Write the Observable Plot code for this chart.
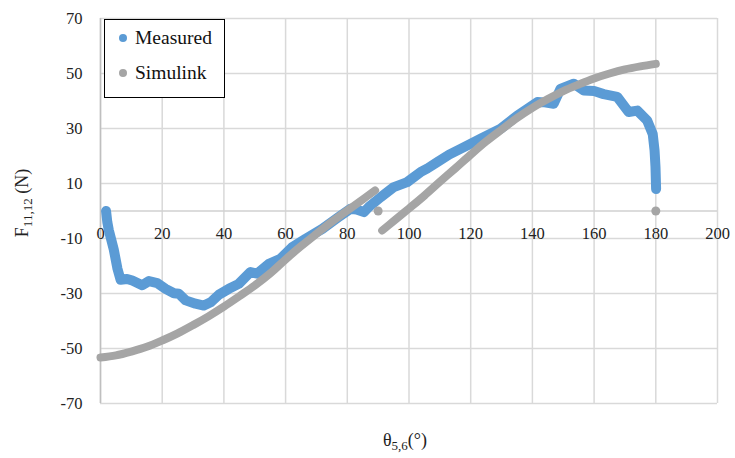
<!DOCTYPE html>
<html>
<head>
<meta charset="utf-8">
<script src="https://cdn.jsdelivr.net/npm/d3@7"></script>
<script src="https://cdn.jsdelivr.net/npm/@observablehq/plot@0.6"></script>
<style>
  html, body { margin: 0; padding: 0; background: #fff; }
  #wrap { position: relative; width: 735px; height: 458px; font-family: "Times New Roman", "Liberation Serif", "DejaVu Serif", serif; }
  #wrap svg { position: absolute; left: 0; top: 0; }
  #legend { position: absolute; left: 104px; top: 19px; width: 121px; height: 79px; border: 1.5px solid #000; background: #fff; box-sizing: border-box; font-family: "Times New Roman", "Liberation Serif", "DejaVu Serif", serif; font-size: 19.5px; color: #111; }
  .lg { position: absolute; left: 14px; height: 24px; display: flex; align-items: center; }
  .lg .dot { width: 8px; height: 8px; border-radius: 50%; margin-right: 8px; }
</style>
</head>
<body>
<div id="wrap"></div>
<script>
// ---- data ----
const measuredX = [1.8, 2.2, 2.7, 4.3, 5.5, 6.5, 8.6, 10.3, 13.5, 15.7, 18.4, 21.1, 23.8, 25.4, 27.6, 30.8, 33.5, 35.7, 38.4, 41.6, 44.8, 48.6, 50.8, 54.6, 58.3, 62.1, 66.5, 71.9, 77.2, 81, 83, 85.4, 87, 90.8, 95.1, 99.4, 103.7, 106, 109.1, 113, 116.7, 123.2, 129.7, 135.1, 141.6, 144, 146.9, 149.1, 153.4, 156.7, 160, 163.1, 167.5, 171.2, 174, 177.2, 179, 179.6, 179.9, 180.1];
const measuredY = [0, -4, -7, -14, -21, -25, -24.7, -25.3, -27, -25.5, -26.2, -28.3, -29.9, -30.1, -32.5, -33.7, -34.4, -33.2, -30.4, -28.3, -26.5, -22.2, -22.8, -19.2, -17.4, -13.2, -10.1, -6.5, -2.2, 0.8, 0.5, -0.4, 1.5, 5, 8.7, 10.5, 14.1, 15.5, 17.7, 20.5, 22.6, 26.3, 29.9, 34.7, 39.6, 39.5, 39, 44.4, 46.3, 43.8, 43.6, 42.5, 41.5, 36, 36.5, 32.9, 28, 22, 16, 8];

const simSeg1X = [0, 5, 10, 15, 20, 25, 30, 35, 40, 45, 50, 55, 60, 65, 70, 75, 80, 85, 89];
const simSeg1Y = [-53.3, -52.5, -51.1, -49.4, -47.1, -44.5, -41.5, -38.3, -34.8, -31.0, -27.1, -22.7, -17.6, -12.8, -8.3, -3.9, 0.2, 4.2, 7.5];
const simSeg2X = [91.3, 95, 100, 105, 110, 115, 120, 125, 130, 135, 140, 145, 150, 155, 160, 165, 170, 175, 180];
const simSeg2Y = [-7.1, -3.7, 0.9, 5.6, 10.6, 15.5, 20.5, 25.3, 29.6, 33.8, 37.5, 40.7, 43.6, 46.0, 48.2, 50.0, 51.5, 52.6, 53.5];
const simPointX = [90, 180];
const simPointY = [0, 0];

const xTicks = [0, 20, 40, 60, 80, 100, 120, 140, 160, 180, 200];
const yTicks = [-70, -50, -30, -10, 10, 30, 50, 70];
const seriesNames = ["Measured", "Simulink"];
const seriesColors = ["#5B9BD5", "#A5A5A5"];

const FONT = "Times New Roman, Liberation Serif, DejaVu Serif, serif";

// ---- tables ----
const measured = measuredX.map((x, i) => ({x, y: measuredY[i]}));
const simLine = [
  ...simSeg1X.map((x, i) => ({x, y: simSeg1Y[i], seg: 1})),
  ...simSeg2X.map((x, i) => ({x, y: simSeg2Y[i], seg: 2}))
];
const simPts = simPointX.map((x, i) => ({x, y: simPointY[i]}));

const chart = Plot.plot({
  width: 735,
  height: 458,
  marginLeft: 100,
  marginRight: 18,
  marginTop: 18,
  marginBottom: 55,
  style: {fontFamily: FONT, fontSize: "16px", color: "#222", background: "transparent"},
  x: {domain: [0, 200], axis: null},
  y: {domain: [-70, 70], axis: null},
  marks: [
    Plot.ruleX(xTicks, {x: d => d, stroke: "#d9d9d9", strokeWidth: 1.5}),
    Plot.ruleY(yTicks, {y: d => d, stroke: "#d9d9d9", strokeWidth: 1.5}),
    Plot.ruleY([0], {stroke: "#d0d0d0", strokeWidth: 1.5}),
    Plot.ruleX([0], {stroke: "#bfbfbf", strokeWidth: 1.5}),
    Plot.text(yTicks, {y: d => d, text: d => String(d), frameAnchor: "left", dx: -18, textAnchor: "end", fontSize: 16.5, fontFamily: FONT, fill: "#222"}),
    Plot.text(xTicks, {x: d => d, y: 0, dy: 23, text: d => String(d), fontSize: 16.5, fontFamily: FONT, fill: "#222"}),
    Plot.line(measured, {x: "x", y: "y", stroke: seriesColors[0], strokeWidth: 10, strokeLinecap: "round", strokeLinejoin: "round"}),
    Plot.line(simLine, {x: "x", y: "y", z: "seg", stroke: seriesColors[1], strokeWidth: 8, strokeLinecap: "round", strokeLinejoin: "round", curve: "catmull-rom"}),
    Plot.dot(simPts, {x: "x", y: "y", r: 4.5, fill: seriesColors[1], stroke: "none"})
  ]
});

const wrap = document.getElementById("wrap");
wrap.appendChild(chart);

// axis titles with subscripts
const svg = d3.select(chart);
const yt = svg.append("text")
  .attr("transform", "translate(28,203) rotate(-90)")
  .attr("text-anchor", "middle")
  .style("font-family", FONT)
  .attr("font-size", 18)
  .attr("fill", "#222");
yt.append("tspan").text("F");
yt.append("tspan").attr("font-size", 13).attr("dy", 4).text("11,12");
yt.append("tspan").attr("dy", -4).text(" (N)");

const xt = svg.append("text")
  .attr("x", 405)
  .attr("y", 446)
  .attr("text-anchor", "middle")
  .style("font-family", FONT)
  .attr("font-size", 18)
  .attr("fill", "#222");
xt.append("tspan").text("θ");
xt.append("tspan").attr("font-size", 13).attr("dy", 4).text("5,6");
xt.append("tspan").attr("dy", -4).text("(°)");

// legend
const legend = document.createElement("div");
legend.id = "legend";
seriesNames.forEach((name, i) => {
  const row = document.createElement("div");
  row.className = "lg";
  row.style.top = (i === 0 ? 6 : 41) + "px";
  const dot = document.createElement("span");
  dot.className = "dot";
  dot.style.background = seriesColors[i];
  const label = document.createElement("span");
  label.textContent = name;
  row.appendChild(dot);
  row.appendChild(label);
  legend.appendChild(row);
});
wrap.appendChild(legend);
</script>
</body>
</html>
